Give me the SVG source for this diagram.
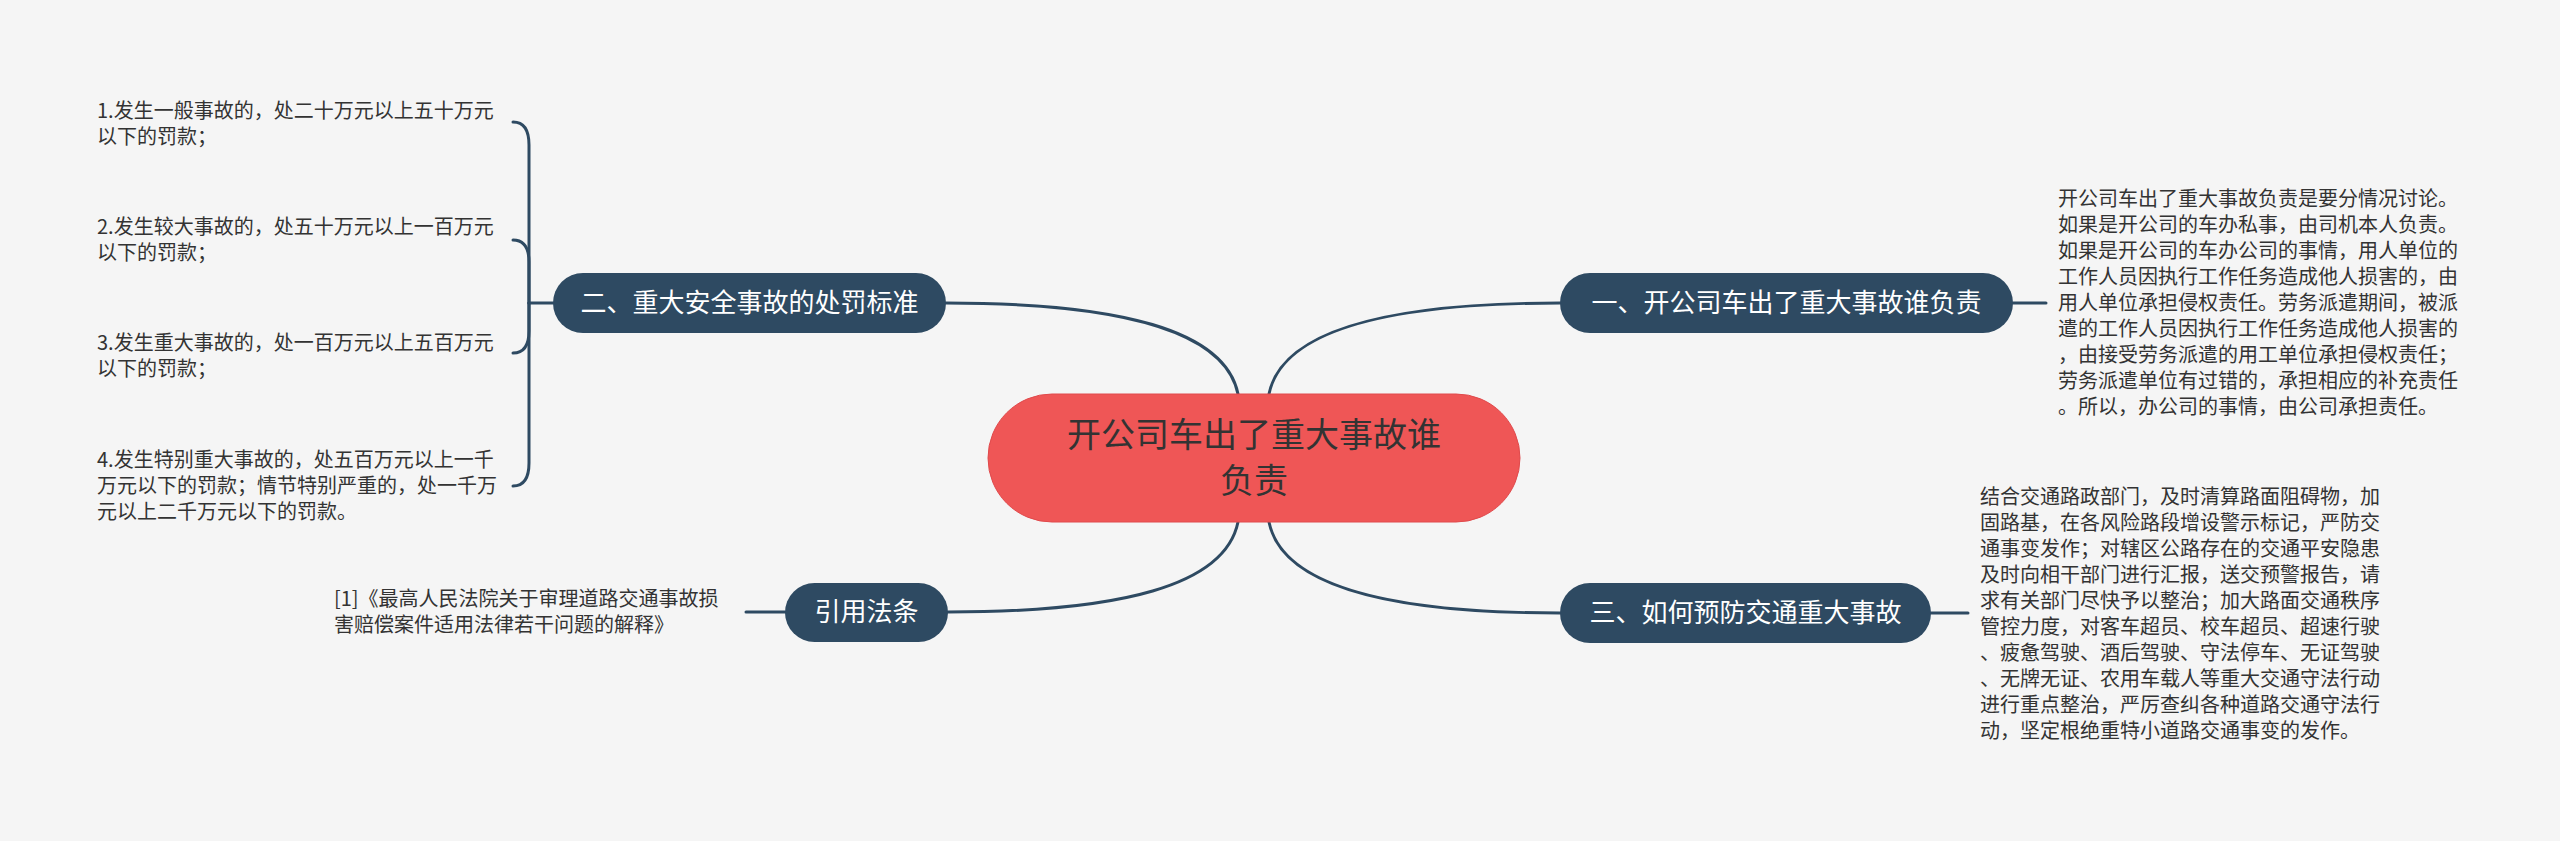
<svg xmlns="http://www.w3.org/2000/svg" width="2560" height="841" viewBox="0 0 2560 841">
<style>
text{font-family:"Noto Sans CJK SC","Liberation Sans",sans-serif;}
.body{font-size:20px;fill:#333333;}
.br{font-size:26px;fill:#ffffff;text-anchor:middle;}
.brn{fill:#2e4a62;}
.ctr{font-size:34px;fill:#333333;text-anchor:middle;}
.ln{fill:none;stroke:#2e4a62;stroke-width:3;stroke-linecap:round;}
</style>
<rect width="2560" height="841" fill="#f5f5f5"/>
<g id="connectors">
<path class="ln" d="M1238 394 C1225 330 1120 303 946 303"/>
<path class="ln" d="M1269 394 C1282 330 1390 303 1560 303"/>
<path class="ln" d="M1238 522 C1225 586 1120 612 948 612"/>
<path class="ln" d="M1269 522 C1282 586 1390 613 1560 613"/>
<path class="ln" d="M2013 303 L2046 303"/>
<path class="ln" d="M1931 613 L1968 613"/>
<path class="ln" d="M785 612 L746 612"/>
<path class="ln" d="M553 303 L529 303"/>
<path class="ln" d="M529 303 L529 145 Q529 122 513 122"/>
<path class="ln" d="M529 303 L529 262 Q529 240 513 240"/>
<path class="ln" d="M529 303 L529 331 Q529 353 513 353"/>
<path class="ln" d="M529 303 L529 463 Q529 486 513 486"/>
</g>
<g id="center">
<rect x="988" y="394" width="532" height="128" rx="64" fill="#ef5656" stroke="#e04a4c" stroke-width="1"/>
<text class="ctr" x="1254" y="447">开公司车出了重大事故谁</text>
<text class="ctr" x="1254" y="493">负责</text>
</g>
<g id="node-penalty">
<rect class="brn" x="553" y="273" width="393" height="60" rx="30"/>
<text class="br" x="749.5" y="312">二、重大安全事故的处罚标准</text>
</g>
<g id="node-who">
<rect class="brn" x="1560" y="273" width="453" height="60" rx="30"/>
<text class="br" x="1786.5" y="312">一、开公司车出了重大事故谁负责</text>
</g>
<g id="node-cite">
<rect class="brn" x="785" y="583" width="163" height="59" rx="29.5"/>
<text class="br" x="866.5" y="621">引用法条</text>
</g>
<g id="node-prevent">
<rect class="brn" x="1560" y="583" width="371" height="60" rx="30"/>
<text class="br" x="1745.5" y="622">三、如何预防交通重大事故</text>
</g>
<g id="item1">
<text class="body" x="97" y="118">1.发生一般事故的，处二十万元以上五十万元</text>
<text class="body" x="97" y="144">以下的罚款；</text>
</g>
<g id="item2">
<text class="body" x="97" y="234">2.发生较大事故的，处五十万元以上一百万元</text>
<text class="body" x="97" y="260">以下的罚款；</text>
</g>
<g id="item3">
<text class="body" x="97" y="350">3.发生重大事故的，处一百万元以上五百万元</text>
<text class="body" x="97" y="376">以下的罚款；</text>
</g>
<g id="item4">
<text class="body" x="97" y="467">4.发生特别重大事故的，处五百万元以上一千</text>
<text class="body" x="97" y="493">万元以下的罚款；情节特别严重的，处一千万</text>
<text class="body" x="97" y="519">元以上二千万元以下的罚款。</text>
</g>
<g id="cite-text">
<text class="body" x="334" y="606">[1]《最高人民法院关于审理道路交通事故损</text>
<text class="body" x="334" y="632">害赔偿案件适用法律若干问题的解释》</text>
</g>
<g id="who-text">
<text class="body" x="2058" y="206">开公司车出了重大事故负责是要分情况讨论。</text>
<text class="body" x="2058" y="232">如果是开公司的车办私事，由司机本人负责。</text>
<text class="body" x="2058" y="258">如果是开公司的车办公司的事情，用人单位的</text>
<text class="body" x="2058" y="284">工作人员因执行工作任务造成他人损害的，由</text>
<text class="body" x="2058" y="310">用人单位承担侵权责任。劳务派遣期间，被派</text>
<text class="body" x="2058" y="336">遣的工作人员因执行工作任务造成他人损害的</text>
<text class="body" x="2058" y="362">，由接受劳务派遣的用工单位承担侵权责任；</text>
<text class="body" x="2058" y="388">劳务派遣单位有过错的，承担相应的补充责任</text>
<text class="body" x="2058" y="414">。所以，办公司的事情，由公司承担责任。</text>
</g>
<g id="prevent-text">
<text class="body" x="1980" y="504">结合交通路政部门，及时清算路面阻碍物，加</text>
<text class="body" x="1980" y="530">固路基，在各风险路段增设警示标记，严防交</text>
<text class="body" x="1980" y="556">通事变发作；对辖区公路存在的交通平安隐患</text>
<text class="body" x="1980" y="582">及时向相干部门进行汇报，送交预警报告，请</text>
<text class="body" x="1980" y="608">求有关部门尽快予以整治；加大路面交通秩序</text>
<text class="body" x="1980" y="634">管控力度，对客车超员、校车超员、超速行驶</text>
<text class="body" x="1980" y="660">、疲惫驾驶、酒后驾驶、守法停车、无证驾驶</text>
<text class="body" x="1980" y="686">、无牌无证、农用车载人等重大交通守法行动</text>
<text class="body" x="1980" y="712">进行重点整治，严厉查纠各种道路交通守法行</text>
<text class="body" x="1980" y="738">动，坚定根绝重特小道路交通事变的发作。</text>
</g>
</svg>
